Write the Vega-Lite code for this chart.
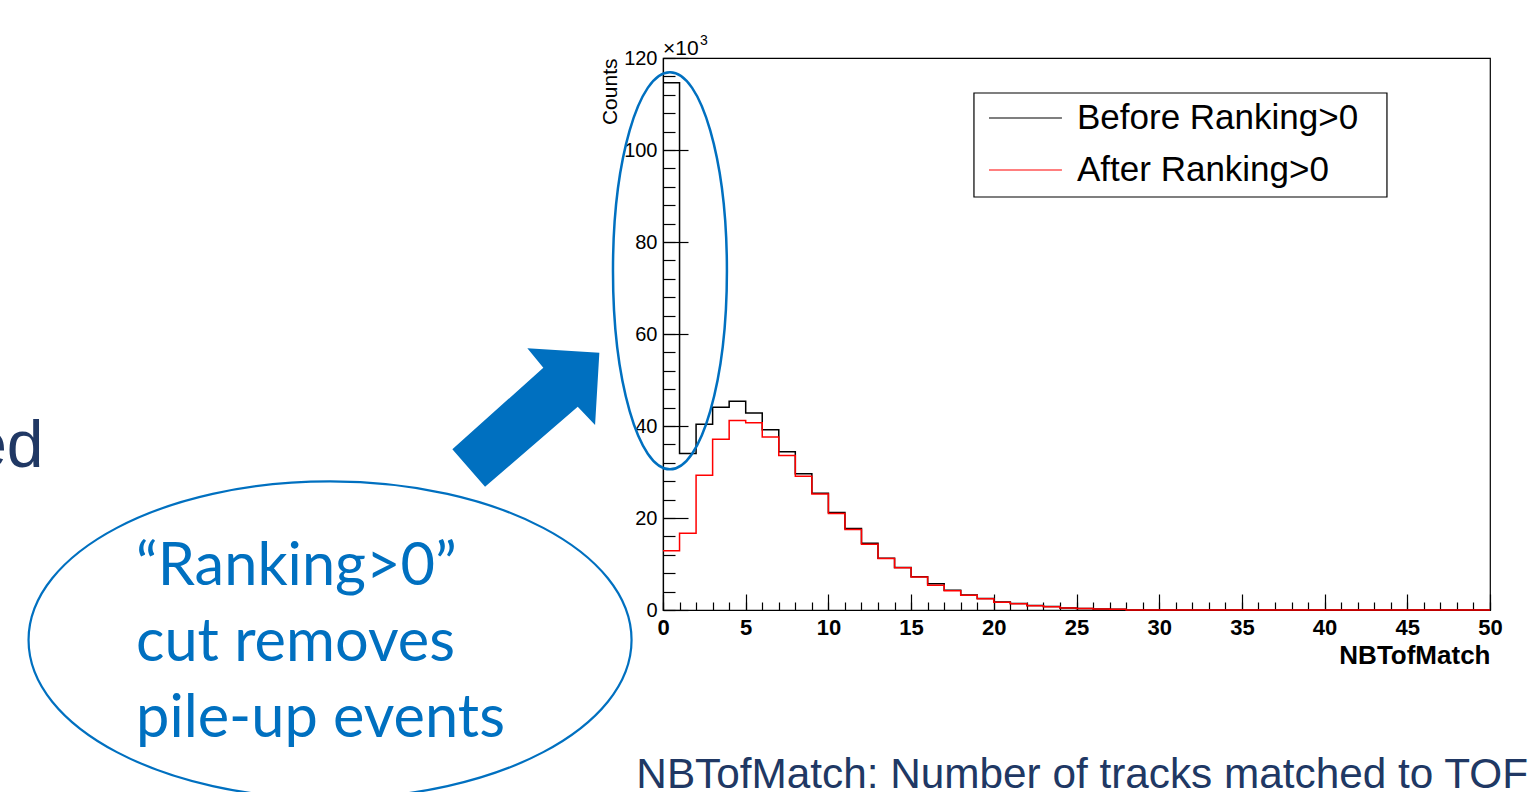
{
  "$schema": "https://vega.github.io/schema/vega-lite/v6.json",
  "width": 827,
  "height": 552,
  "autosize": {"type": "none"},
  "padding": {"left": 663, "top": 58, "right": 42, "bottom": 182},
  "background": "#ffffff",
  "config": {
    "font": "Liberation Sans",
    "view": {"stroke": "#000000", "strokeWidth": 1.2},
    "axis": {
      "grid": false,
      "domainColor": "#000000",
      "domainWidth": 1.2,
      "tickColor": "#000000",
      "tickWidth": 1.2,
      "labelColor": "#000000",
      "titleColor": "#000000",
      "labelFont": "Liberation Sans",
      "titleFont": "Liberation Sans",
      "labelOverlap": false,
      "labelFlush": false,
      "labelBound": false
    }
  },
  "resolve": {"axis": {"x": "independent", "y": "independent"}},
  "datasets": {
    "tof": [
      {"NBTofMatch": 0, "before": 114600, "after": 12900},
      {"NBTofMatch": 1, "before": 34000, "after": 16700},
      {"NBTofMatch": 2, "before": 40400, "after": 29300},
      {"NBTofMatch": 3, "before": 44100, "after": 37100},
      {"NBTofMatch": 4, "before": 45400, "after": 41200},
      {"NBTofMatch": 5, "before": 42800, "after": 40700},
      {"NBTofMatch": 6, "before": 39200, "after": 37600},
      {"NBTofMatch": 7, "before": 34400, "after": 33600},
      {"NBTofMatch": 8, "before": 29600, "after": 29100},
      {"NBTofMatch": 9, "before": 25400, "after": 25200},
      {"NBTofMatch": 10, "before": 21200, "after": 21000},
      {"NBTofMatch": 11, "before": 17700, "after": 17500},
      {"NBTofMatch": 12, "before": 14500, "after": 14300},
      {"NBTofMatch": 13, "before": 11250, "after": 11200},
      {"NBTofMatch": 14, "before": 9250, "after": 9200},
      {"NBTofMatch": 15, "before": 7250, "after": 7200},
      {"NBTofMatch": 16, "before": 5700, "after": 5400},
      {"NBTofMatch": 17, "before": 4300, "after": 4200},
      {"NBTofMatch": 18, "before": 3250, "after": 3200},
      {"NBTofMatch": 19, "before": 2500, "after": 2450},
      {"NBTofMatch": 20, "before": 1750, "after": 1700},
      {"NBTofMatch": 21, "before": 1420, "after": 1380},
      {"NBTofMatch": 22, "before": 970, "after": 930},
      {"NBTofMatch": 23, "before": 750, "after": 720},
      {"NBTofMatch": 24, "before": 460, "after": 430},
      {"NBTofMatch": 25, "before": 330, "after": 300},
      {"NBTofMatch": 26, "before": 240, "after": 220},
      {"NBTofMatch": 27, "before": 170, "after": 150},
      {"NBTofMatch": 28, "before": 0, "after": 0},
      {"NBTofMatch": 29, "before": 0, "after": 0},
      {"NBTofMatch": 30, "before": 0, "after": 0},
      {"NBTofMatch": 31, "before": 0, "after": 0},
      {"NBTofMatch": 32, "before": 0, "after": 0},
      {"NBTofMatch": 33, "before": 0, "after": 0},
      {"NBTofMatch": 34, "before": 0, "after": 0},
      {"NBTofMatch": 35, "before": 0, "after": 0},
      {"NBTofMatch": 36, "before": 0, "after": 0},
      {"NBTofMatch": 37, "before": 0, "after": 0},
      {"NBTofMatch": 38, "before": 0, "after": 0},
      {"NBTofMatch": 39, "before": 0, "after": 0},
      {"NBTofMatch": 40, "before": 0, "after": 0},
      {"NBTofMatch": 41, "before": 0, "after": 0},
      {"NBTofMatch": 42, "before": 0, "after": 0},
      {"NBTofMatch": 43, "before": 0, "after": 0},
      {"NBTofMatch": 44, "before": 0, "after": 0},
      {"NBTofMatch": 45, "before": 0, "after": 0},
      {"NBTofMatch": 46, "before": 0, "after": 0},
      {"NBTofMatch": 47, "before": 0, "after": 0},
      {"NBTofMatch": 48, "before": 0, "after": 0},
      {"NBTofMatch": 49, "before": 0, "after": 0},
      {"NBTofMatch": 50, "before": 0, "after": 0}
    ]
  },
  "layer": [
    {
      "data": {"name": "tof"},
      "mark": {"type": "line", "interpolate": "step-after", "color": "#000000", "strokeWidth": 1.5},
      "encoding": {
        "x": {
          "field": "NBTofMatch",
          "type": "quantitative",
          "scale": {"domain": [0, 50], "nice": false},
          "axis": {
            "orient": "bottom",
            "values": [0, 5, 10, 15, 20, 25, 30, 35, 40, 45, 50],
            "tickSize": -16,
            "labelPadding": 23,
            "labelFontSize": 22,
            "labelFontWeight": "bold",
            "labelBaseline": "top",
            "title": "NBTofMatch",
            "titleFontSize": 26,
            "titleFontWeight": "bold",
            "titleAlign": "right",
            "titleX": 827,
            "titleY": 53,
            "titleBaseline": "alphabetic"
          }
        },
        "y": {
          "field": "before",
          "type": "quantitative",
          "scale": {"domain": [0, 120000], "nice": false},
          "axis": {
            "orient": "left",
            "values": [0, 20000, 40000, 60000, 80000, 100000, 120000],
            "tickSize": -25,
            "labelExpr": "format(datum.value / 1000, 'd')",
            "labelPadding": 31,
            "labelFontSize": 20,
            "title": "Counts",
            "titleFontSize": 21,
            "titleFontWeight": "normal",
            "titleAngle": -90,
            "titleAlign": "right",
            "titleBaseline": "alphabetic",
            "titleX": -47,
            "titleY": 0
          }
        }
      }
    },
    {
      "data": {"name": "tof"},
      "mark": {"type": "line", "interpolate": "step-after", "color": "#ff0000", "strokeWidth": 1.5},
      "encoding": {
        "x": {
          "field": "NBTofMatch",
          "type": "quantitative",
          "scale": {"domain": [0, 50], "nice": false},
          "axis": {
            "orient": "bottom",
            "values": [0,1,2,3,4,5,6,7,8,9,10,11,12,13,14,15,16,17,18,19,20,21,22,23,24,25,26,27,28,29,30,31,32,33,34,35,36,37,38,39,40,41,42,43,44,45,46,47,48,49,50],
            "tickSize": -8,
            "labels": false,
            "domain": false,
            "title": null
          }
        },
        "y": {
          "field": "after",
          "type": "quantitative",
          "scale": {"domain": [0, 120000], "nice": false},
          "axis": {
            "orient": "left",
            "values": [0,4000,8000,12000,16000,20000,24000,28000,32000,36000,40000,44000,48000,52000,56000,60000,64000,68000,72000,76000,80000,84000,88000,92000,96000,100000,104000,108000,112000,116000,120000],
            "tickSize": -12,
            "labels": false,
            "domain": false,
            "title": null
          }
        }
      }
    },
    {
      "data": {"values": [{}]},
      "mark": {"type": "text", "text": "×10", "align": "left", "baseline": "alphabetic", "fontSize": 21, "color": "#000000"},
      "encoding": {
        "x": {"datum": 0, "type": "quantitative", "scale": {"domain": [0, 50], "nice": false}, "axis": null},
        "y": {"datum": 120650, "type": "quantitative", "scale": {"domain": [0, 120000], "nice": false}, "axis": null}
      }
    },
    {
      "data": {"values": [{}]},
      "mark": {"type": "text", "text": "3", "align": "left", "baseline": "alphabetic", "fontSize": 14, "color": "#000000"},
      "encoding": {
        "x": {"datum": 2.24, "type": "quantitative", "scale": {"domain": [0, 50], "nice": false}, "axis": null},
        "y": {"datum": 122830, "type": "quantitative", "scale": {"domain": [0, 120000], "nice": false}, "axis": null}
      }
    },
    {
      "data": {"values": [{}]},
      "mark": {"type": "rect", "fill": "#ffffff", "stroke": "#000000", "strokeWidth": 1.2},
      "encoding": {
        "x": {"datum": 18.80, "type": "quantitative", "scale": {"domain": [0, 50], "nice": false}, "axis": null},
        "x2": {"datum": 43.77},
        "y": {"datum": 112390, "type": "quantitative", "scale": {"domain": [0, 120000], "nice": false}, "axis": null},
        "y2": {"datum": 89780}
      }
    },
    {
      "data": {"values": [{}]},
      "mark": {"type": "rule", "color": "#000000", "strokeWidth": 1.2},
      "encoding": {
        "x": {"datum": 19.71, "type": "quantitative", "scale": {"domain": [0, 50], "nice": false}, "axis": null},
        "x2": {"datum": 24.12},
        "y": {"datum": 106960, "type": "quantitative", "scale": {"domain": [0, 120000], "nice": false}, "axis": null}
      }
    },
    {
      "data": {"values": [{}]},
      "mark": {"type": "rule", "color": "#ff0000", "strokeWidth": 1.2},
      "encoding": {
        "x": {"datum": 19.71, "type": "quantitative", "scale": {"domain": [0, 50], "nice": false}, "axis": null},
        "x2": {"datum": 24.12},
        "y": {"datum": 95650, "type": "quantitative", "scale": {"domain": [0, 120000], "nice": false}, "axis": null}
      }
    },
    {
      "data": {"values": [{}]},
      "mark": {"type": "text", "text": "Before Ranking>0", "align": "left", "baseline": "middle", "fontSize": 35, "color": "#000000"},
      "encoding": {
        "x": {"datum": 25.03, "type": "quantitative", "scale": {"domain": [0, 50], "nice": false}, "axis": null},
        "y": {"datum": 106960, "type": "quantitative", "scale": {"domain": [0, 120000], "nice": false}, "axis": null}
      }
    },
    {
      "data": {"values": [{}]},
      "mark": {"type": "text", "text": "After Ranking>0", "align": "left", "baseline": "middle", "fontSize": 35, "color": "#000000"},
      "encoding": {
        "x": {"datum": 25.03, "type": "quantitative", "scale": {"domain": [0, 50], "nice": false}, "axis": null},
        "y": {"datum": 95650, "type": "quantitative", "scale": {"domain": [0, 120000], "nice": false}, "axis": null}
      }
    },
    {
      "data": {"values": [{}]},
      "mark": {"type": "point", "shape": "M -0.287 0 A 0.287 1 0 1 0 0.287 0 A 0.287 1 0 1 0 -0.287 0 Z", "size": 157609, "filled": false, "stroke": "#0070c0", "strokeWidth": 2.5, "opacity": 1},
      "encoding": {
        "x": {"datum": 0.42, "type": "quantitative", "scale": {"domain": [0, 50], "nice": false}, "axis": null},
        "y": {"datum": 73740, "type": "quantitative", "scale": {"domain": [0, 120000], "nice": false}, "axis": null}
      }
    },
    {
      "data": {"values": [{}]},
      "mark": {"type": "point", "shape": "M 0.024 -0.923 L 0.984 -0.864 L 0.927 0.1 L 0.696 -0.144 L -0.54 0.923 L -0.976 0.424 L 0.237 -0.664 Z", "size": 22500, "filled": true, "fill": "#0070c0", "strokeOpacity": 0, "opacity": 1},
      "encoding": {
        "x": {"datum": -8.31, "type": "quantitative", "scale": {"domain": [0, 50], "nice": false}, "axis": null},
        "y": {"datum": 41850, "type": "quantitative", "scale": {"domain": [0, 120000], "nice": false}, "axis": null}
      }
    },
    {
      "data": {"values": [{}]},
      "mark": {"type": "point", "shape": "M -1 0 A 1 0.526 0 1 0 1 0 A 1 0.526 0 1 0 -1 0 Z", "size": 363609, "filled": false, "stroke": "#0070c0", "strokeWidth": 2.2, "opacity": 1},
      "encoding": {
        "x": {"datum": -20.13, "type": "quantitative", "scale": {"domain": [0, 50], "nice": false}, "axis": null},
        "y": {"datum": -6520, "type": "quantitative", "scale": {"domain": [0, 120000], "nice": false}, "axis": null}
      }
    },
    {
      "data": {"values": [{}]},
      "mark": {"type": "text", "text": ["“Ranking>0”", "cut removes", "pile-up events"], "align": "left", "baseline": "alphabetic", "lineHeight": 76, "font": "Lato", "fontSize": 59.5, "color": "#0070c0"},
      "encoding": {
        "x": {"datum": -31.86, "type": "quantitative", "scale": {"domain": [0, 50], "nice": false}, "axis": null},
        "y": {"datum": 5430, "type": "quantitative", "scale": {"domain": [0, 120000], "nice": false}, "axis": null}
      }
    },
    {
      "data": {"values": [{}]},
      "mark": {"type": "text", "text": "ed", "align": "right", "baseline": "alphabetic", "fontSize": 66, "color": "#203864"},
      "encoding": {
        "x": {"datum": -37.45, "type": "quantitative", "scale": {"domain": [0, 50], "nice": false}, "axis": null},
        "y": {"datum": 30980, "type": "quantitative", "scale": {"domain": [0, 120000], "nice": false}, "axis": null}
      }
    },
    {
      "data": {"values": [{}]},
      "mark": {"type": "text", "text": "NBTofMatch: Number of tracks matched to TOF", "align": "right", "baseline": "alphabetic", "fontSize": 42.3, "color": "#203864"},
      "encoding": {
        "x": {"datum": 52.3, "type": "quantitative", "scale": {"domain": [0, 50], "nice": false}, "axis": null},
        "y": {"datum": -38700, "type": "quantitative", "scale": {"domain": [0, 120000], "nice": false}, "axis": null}
      }
    }
  ]
}
